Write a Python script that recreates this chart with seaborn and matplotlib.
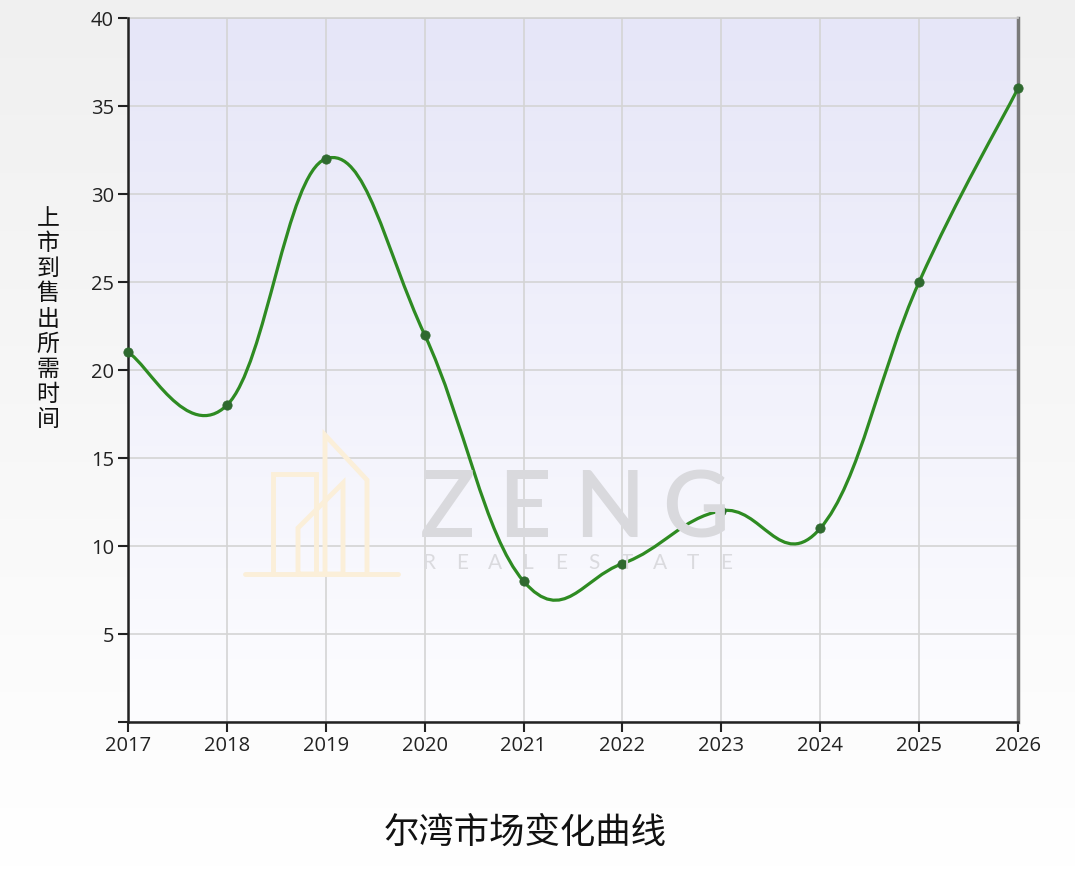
import numpy as np
import pandas as pd
import matplotlib
matplotlib.use("Agg")
import matplotlib.pyplot as plt
import seaborn as sns
from matplotlib.path import Path
from matplotlib.patches import PathPatch
from matplotlib.lines import Line2D

# data
years = [2017, 2018, 2019, 2020, 2021, 2022, 2023, 2024, 2025, 2026]
days = [21, 18, 32, 22, 8, 9, 12, 11, 25, 36]
y_label = "上市到售出所需时间"
title = "尔湾市场变化曲线"

df = pd.DataFrame({"year": years, "days": days})

sns.set_theme(style="white")
plt.rcParams["font.family"] = ["Open Sans", "DejaVu Sans"]

W, H = 1075, 869
fig = plt.figure(figsize=(W / 100, H / 100), dpi=100)

# figure background: light gray at top fading to white
bg = fig.add_axes([0, 0, 1, 1], zorder=-10)
grad = np.linspace(0, 1, 256).reshape(-1, 1)
bg.imshow(grad, aspect="auto", cmap=matplotlib.colors.LinearSegmentedColormap.from_list(
    "bg", ["#f0f0f0", "#ffffff"]), extent=[0, 1, 0, 1])
bg.axis("off")

ax = fig.add_axes([128 / W, 1 - 722 / H, (1018 - 128) / W, (722 - 18) / H])

# plot area gradient: lavender at top to near white at bottom
pcmap = matplotlib.colors.LinearSegmentedColormap.from_list("pa", ["#e6e6f8", "#fdfdff"])
ax.imshow(grad, aspect="auto", cmap=pcmap, extent=[2017, 2026, 0, 40], zorder=0)
ax.set_xlim(2017, 2026)
ax.set_ylim(0, 40)

ax.set_yticks(range(0, 41, 5))
ax.set_yticklabels([""] + [str(v) for v in range(5, 41, 5)])
ax.set_xticks(years)
ax.set_xticklabels([str(y) for y in years])
ax.grid(True, color="#d4d4d4", linewidth=1.2)
for gl in ax.get_xgridlines() + ax.get_ygridlines():
    gl.set_zorder(1)
ax.tick_params(axis="both", direction="out", length=7, width=1.5, color="#222222",
               labelsize=14.5, labelcolor="#222222", pad=3)
ax.tick_params(axis="x", bottom=True)
ax.tick_params(axis="y", left=True)

for side in ["left", "bottom"]:
    ax.spines[side].set_color("#222222")
    ax.spines[side].set_linewidth(1.8)
    ax.spines[side].set_zorder(5)
ax.spines["top"].set_color("#d0d0d0")
ax.spines["top"].set_linewidth(1.2)
ax.spines["right"].set_color("#7a7a7a")
ax.spines["right"].set_linewidth(2.5)

# watermark logo (decorative)
def px(x, y):
    return x / W, 1 - y / H

logo_c = "#fbefd9"
logo = [
    [(273, 574), (273, 474), (316, 474), (316, 574)],
    [(325, 574), (325, 435), (367, 480), (367, 574)],
    [(298, 574), (298, 528), (343, 483), (343, 574), (298, 574)],
    [(245, 574), (398, 574)],
]
for seg in logo:
    xs, ys = zip(*[px(*p) for p in seg])
    fig.add_artist(Line2D(xs, ys, color=logo_c, linewidth=3.5, zorder=2,
                          solid_joinstyle="miter"))

for ch, cx in zip("ZENG", [448, 525, 609, 695]):
    fig.text(*px(cx, 511), ch, ha="center", va="center", fontsize=66, fontweight="semibold",
             family=["Lato", "DejaVu Sans"], color="#d9d9dd", zorder=2)
for i, ch in enumerate("REALESTATE"):
    fig.text(*px(429 + i * 33, 563), ch, ha="center", va="center", fontsize=15,
             fontweight="normal", family=["Lato", "DejaVu Sans"], color="#dadade", zorder=2)

# spline through the points, drawn as cubic Bezier segments
t = 0.2
pts = np.array([years, days], dtype=float).T
n = len(pts)
verts = [pts[0], pts[0] + t * (pts[1] - pts[0])]
for i in range(1, n - 1):
    d = pts[i + 1] - pts[i - 1]
    verts += [pts[i] - t * d, pts[i], pts[i] + t * d]
verts += [pts[-1] + t * (pts[-2] - pts[-1]), pts[-1]]
codes = [Path.MOVETO] + [Path.CURVE4] * (len(verts) - 1)
ax.add_patch(PathPatch(Path(verts, codes), facecolor="none", edgecolor="#2e8b22",
                       linewidth=2.3, zorder=6, clip_on=False))

sns.scatterplot(data=df, x="year", y="days", ax=ax, color="#2f6a2f", s=45,
                edgecolor="#2f6a2f", zorder=7, clip_on=False, legend=False)
ax.set_xlabel("")
ax.set_ylabel("")
ax.set_xlim(2017, 2026)
ax.set_ylim(0, 40)

fig.text(*px(48, 319), "\n".join(y_label), ha="center", va="center", fontsize=16.5,
         family=["Noto Sans CJK SC", "DejaVu Sans"], color="#111111", linespacing=1.12)
fig.text(*px(525, 833), title, ha="center", va="center", fontsize=25.5,
         family=["Noto Sans CJK SC", "DejaVu Sans"], color="#111111")

fig.savefig("out.png", dpi=100)
